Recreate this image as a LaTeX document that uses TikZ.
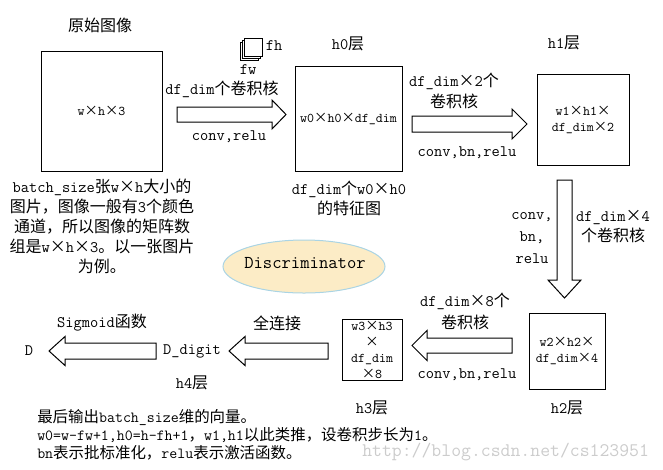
\documentclass[tikz,border=0pt]{standalone}
\usepackage{fontspec}
\newfontfamily\cjk{Noto Sans CJK SC}
\newcommand\zh[1]{{\cjk #1}}
\newcommand\X{\zh{×}}
\newcommand\mfont{\fontsize{12}{15}\ttfamily}
\newcommand\sfontx{\fontsize{10}{12}\ttfamily}
\newcommand\rar[6]{\draw[barrow] (#1,{#4-#5}) -- (#2,{#4-#5}) -- (#2,{#4-#6}) -- (#3,#4) -- (#2,{#4+#6}) -- (#2,{#4+#5}) -- (#1,{#4+#5}) -- cycle;}
\newcommand\dar[6]{\draw[barrow] ({#1-#5},#2) -- ({#1-#5},#3) -- ({#1-#6},#3) -- (#1,#4) -- ({#1+#6},#3) -- ({#1+#5},#3) -- ({#1+#5},#2) -- cycle;}
\definecolor{ellfill}{RGB}{252,236,198}
\definecolor{elldraw}{RGB}{170,212,228}
\begin{document}
\begin{tikzpicture}[x=0.75pt,y=-0.75pt,
  every node/.style={font=\mfont, inner sep=0pt, align=center},
  box/.style={draw, line width=0.75pt},
  small/.style={font=\sfontx},
  barrow/.style={draw, line width=0.75pt, fill=white, line join=miter}]
\useasboundingbox (0,0) rectangle (663,469);

% boxes
\node[box, minimum width=121*0.75pt, minimum height=120*0.75pt] (b0) at (101.5,111) {};
\node[small] (b0t) at (b0.center) {w\X h\X 3};
\node[box, minimum width=107*0.75pt, minimum height=105*0.75pt] (bh0) at (348.5,118.5) {};
\node[small] (bh0t) at (bh0.center) {w0\X h0\X df\_dim};
\node[box, minimum width=92*0.75pt, minimum height=91*0.75pt] (bh1) at (583,119.5) {};
\node[small] (bh1t) at (583,120) {w1\X h1\X\\df\_dim\X 2};
\node[box, minimum width=76*0.75pt, minimum height=76*0.75pt] (bh2) at (567,351) {};
\node[small] (bh2t) at (567,350.5) {w2\X h2\X\\df\_dim\X 4};
\node[box, minimum width=60*0.75pt, minimum height=61*0.75pt] (bh3) at (372,349.5) {};
\node[small] (bh3t) at (372,349.5) {w3\X h3\\\X\\df\_dim\\\X 8};

% titles
\node (t0) at (100,25) {\zh{原始图像}};
\node (th0) at (348,44) {h0\zh{层}};
\node (th1) at (564,43) {h1\zh{层}};
\node (th2) at (567,408) {h2\zh{层}};
\node (th3) at (372,408) {h3\zh{层}};
\node (th4) at (192,383) {h4\zh{层}};

% filter icon
\draw[line width=0.75pt, fill=white] (240,42) rectangle (258,60);
\draw[line width=0.75pt, fill=white] (242,40) rectangle (260,58);
\draw[line width=0.75pt, fill=white] (244,38) rectangle (262,56);
\node (fh) at (274,46) {fh};
\node (fw) at (248,70) {fw};

% arrow 1
\node (k1) at (222,89) {df\_dim\zh{个卷积核}};
\rar{177}{272}{286}{114.5}{7.5}{14.5}
\node (c1) at (229,137) {conv,relu};

% arrow 2
\node (k2) at (454,91) {df\_dim\X 2\zh{个}\\[1pt]\zh{卷积核}};
\rar{412}{512}{527}{124}{8}{15}
\node (c2) at (467,153) {conv,bn,relu};

% feature map label
\node (fm) at (349,198.5) {df\_dim\zh{个}w0\X h0\\\zh{的特征图}};

% batch description
\node (desc) at (102,226.5) {batch\_size\zh{张}w\X h\zh{大小的}\\\zh{图片，图像一般有}3\zh{个颜色}\\\zh{通道，所以图像的矩阵数}\\\zh{组是}w\X h\X 3\zh{。以一张图片}\\\zh{为例。}};

% Discriminator ellipse
\draw[fill=ellfill, draw=elldraw, line width=0.75pt] (304,266.5) ellipse [x radius=81, y radius=26.5];
\node[font=\fontsize{13.6}{16}\ttfamily] (disc) at (305,263.5) {Discriminator};

% down arrow
\node (c3) at (532,238) {conv,\\[1.5pt]bn,\\[1.5pt]relu};
\node (k3) at (613,226.5) {df\_dim\X 4\\\zh{个卷积核}};
\dar{564.5}{180}{280}{298}{7.5}{16.5}

% arrow 4 (h2 -> h3)
\node (k4) at (465,311.5) {df\_dim\X 8\zh{个}\\[2pt]\zh{卷积核}};
\rar{512}{427}{412}{345.5}{7.5}{15}
\node (c4) at (467,375) {conv,bn,relu};

% full connection
\node (fc) at (277,323) {\zh{全连接}};
\rar{328}{245}{229}{351}{8}{14.5}
\node (dd) at (192,351) {D\_digit};
\node (sg) at (102,323) {Sigmoid\zh{函数}};
\rar{156}{65}{49}{351}{8}{14.5}
\node (D) at (29,351) {D};

% bottom notes
\node[anchor=west, align=left, font=\fontsize{11.6}{13.5}\ttfamily] (note) at (37,435) {\zh{最后输出}batch\_size\zh{维的向量。}\\w0=w-fw+1,h0=h-fh+1\zh{，}w1,h1\zh{以此类推，设卷积步长为}1\zh{。}\\bn\zh{表示批标准化，}relu\zh{表示激活函数。}};

% watermark
\node[anchor=west, font=\fontsize{14.4}{16}\ttfamily, text=black!20] (wm) at (362,452) {http://blog.csdn.net/cs123951};
\end{tikzpicture}
\end{document}
